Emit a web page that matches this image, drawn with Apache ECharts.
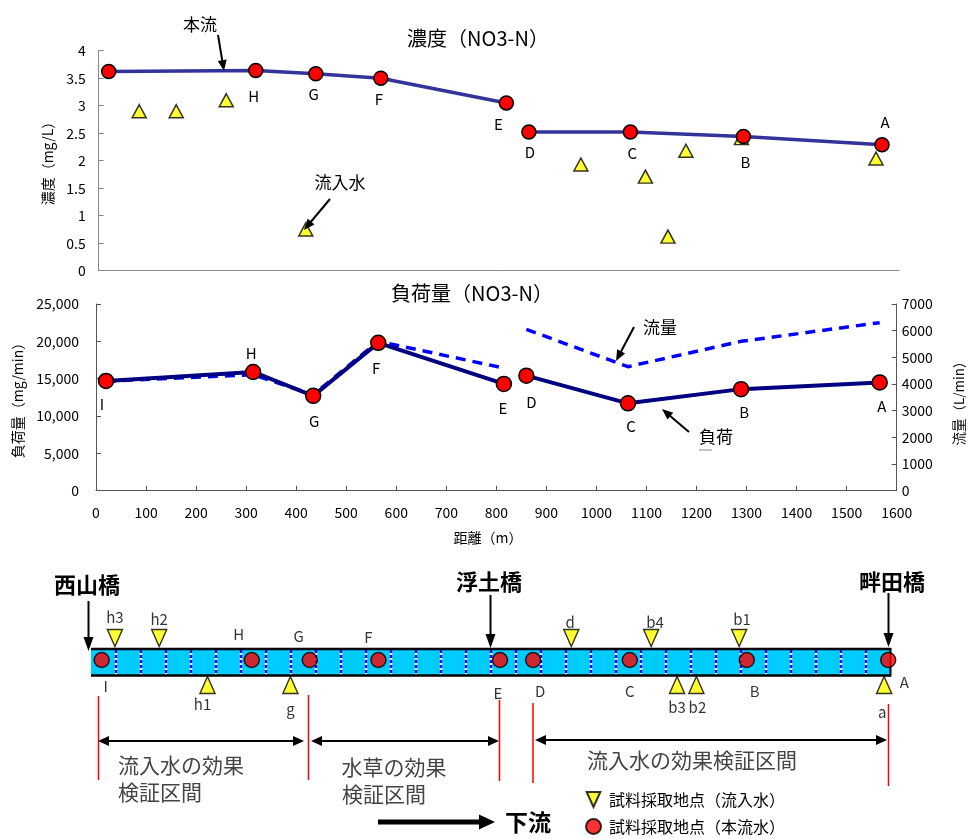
<!DOCTYPE html>
<html>
<head>
<meta charset="utf-8">
<script src="https://cdn.jsdelivr.net/npm/echarts@6/dist/echarts.min.js"></script>
<style>
html, body { margin: 0; padding: 0; background: #fff; }
#chart { width: 968px; height: 839px; }
</style>
</head>
<body>
<div id="chart"></div>
<script>
// main stream sampling sites (upstream -> downstream)
const siteNames = ['I', 'H', 'G', 'F', 'E', 'D', 'C', 'B', 'A'];
const siteDist = [20, 314, 434, 564, 815, 860, 1063, 1289, 1566];
const siteConc = [3.62, 3.64, 3.58, 3.50, 3.05, 2.52, 2.52, 2.44, 2.29];
const siteLoad = [14700, 15900, 12700, 19800, 14300, 15400, 11700, 13600, 14500];
const siteFlow = [4100, 4350, 3600, 5600, 4600, 6050, 4650, 5600, 6300];
// inflow sampling sites
const inflowNames = ['h3', 'h2', 'h1', 'g', 'd', 'b4', 'b3', 'b2', 'b1', 'a'];
const inflowDist = [81, 155, 255, 414, 964, 1093, 1138, 1174, 1285, 1554];
const inflowConc = [2.9, 2.9, 3.1, 0.75, 1.93, 1.71, 0.62, 2.18, 2.41, 2.04];
const inflowSide = ['top', 'top', 'bottom', 'bottom', 'top', 'top', 'bottom', 'bottom', 'top', 'bottom'];
// positions on the river sketch (m)
const siteMapPos = [20, 315, 429, 564, 803, 868, 1058, 1288, 1566];
const inflowMapPos = [46, 133, 228, 391, 943, 1100, 1151, 1189, 1273, 1558];
// line segments (gap between E and D)
const upstream = [0, 1, 2, 3, 4];
const downstream = [5, 6, 7, 8];

const FONT = '"Noto Sans CJK JP", "Noto Sans", sans-serif';

// label offsets (style only)
const concLabelOff = { H: [-2, 26], G: [-2, 20], F: [-2, 21], E: [-8, 21], D: [1, 20], C: [2, 21], B: [2, 26], A: [3, -22] };
const loadLabelOff = { I: [-4, 23], H: [-2, -19], G: [1, 25], F: [-2, 25], E: [-1, 24], D: [5, 27], C: [3, 23], B: [3, 23], A: [2, 24] };
const mapSiteOff = { I: [4, 26], H: [-13, -26], G: [-11, -24], F: [-10, -23], E: [-2, 33], D: [7, 31], C: [0, 31], B: [8, 31], A: [16, 22] };
const mapInflowOff = { h3: [0, -21], h2: [0, -19], h1: [-5, 19], g: [0, 24], d: [-1, -16], b4: [4, -16], b1: [3, -19], b3: [0, 22], b2: [1, 22], a: [-2, 27] };

function pts(idx, ys, offs) {
  return idx.map(function (i) {
    const n = siteNames[i];
    const item = { name: n, value: [siteDist[i], ys[i]] };
    if (offs[n]) item.label = { show: true, formatter: n, offset: offs[n] };
    return item;
  });
}

const labelBase = { show: false, position: 'inside', fontSize: 15, color: '#000', fontFamily: FONT };
const redDot = { color: '#ff0000', borderColor: '#000', borderWidth: 1.5 };
const yellowTri = { color: '#ffff00', borderColor: '#000', borderWidth: 1.5 };
const plain = function (v) { return String(v); };

// graphic helpers
function txt(x, y, text, size, o) {
  o = o || {};
  return {
    type: 'text', x: x, y: y, rotation: o.rot || 0, z: 50,
    style: {
      text: text, fontSize: size, fontFamily: FONT, fontWeight: o.bold ? 'bold' : 'normal',
      fill: o.color || '#000', textAlign: 'center', textVerticalAlign: 'middle',
      align: 'center', verticalAlign: 'middle'
    }
  };
}
function line(x1, y1, x2, y2, color, w, z, dash) {
  const st = { stroke: color, lineWidth: w };
  if (dash) st.lineDash = dash;
  return { type: 'line', z: z, shape: { x1: x1, y1: y1, x2: x2, y2: y2 }, style: st };
}
function head(x1, y1, x2, y2, hl, hw, color) {
  const L = Math.hypot(x2 - x1, y2 - y1), ux = (x2 - x1) / L, uy = (y2 - y1) / L;
  const bx = x2 - ux * hl, by = y2 - uy * hl;
  return {
    type: 'polygon', z: 60,
    shape: { points: [[x2, y2], [bx - uy * hw / 2, by + ux * hw / 2], [bx + uy * hw / 2, by - ux * hw / 2]] },
    style: { fill: color }
  };
}
function arrow(x1, y1, x2, y2, w, hl, hw) {
  const L = Math.hypot(x2 - x1, y2 - y1), ux = (x2 - x1) / L, uy = (y2 - y1) / L;
  return [line(x1, y1, x2 - ux * hl * 0.8, y2 - uy * hl * 0.8, '#000', w, 60), head(x1, y1, x2, y2, hl, hw, '#000')];
}
function dblArrow(x1, x2, y) {
  return [line(x1 + 8, y, x2 - 8, y, '#000', 2, 60), head(x2 - 20, y, x1, y, 11, 10, '#000'), head(x1 + 20, y, x2, y, 11, 10, '#000')];
}

let g = [];
// titles and axis names
g.push(txt(478, 38, '濃度（NO3-N）', 20));
g.push(txt(472, 293, '負荷量（NO3-N）', 20));
g.push(txt(48, 160, '濃度（mg/L）', 14, { rot: Math.PI / 2 }));
g.push(txt(18, 397, '負荷量（mg/min）', 14, { rot: Math.PI / 2 }));
g.push(txt(959, 400, '流量（L/min）', 13.5, { rot: Math.PI / 2 }));
g.push(txt(488, 538, '距離（m）', 14));
// annotations in charts
g.push(txt(200, 25, '本流', 17));
g = g.concat(arrow(218, 35, 224, 71, 2, 11, 9));
g.push(txt(340, 183, '流入水', 17));
g = g.concat(arrow(330, 199, 304, 230, 2, 11, 9));
g.push(txt(660, 328, '流量', 17));
g = g.concat(arrow(634, 327, 616, 361, 2, 11, 9));
g.push(txt(716, 437, '負荷', 17));
g = g.concat(arrow(689, 432, 662, 409, 2, 11, 9));
g.push(line(699, 450, 712, 450, '#888', 1, 50));

// river sketch
g.push({ type: 'rect', z: 0, shape: { x: 91, y: 649, width: 800, height: 26 }, style: { fill: '#00ccff' } });
for (let k = 0; k < 31; k++) {
  const x = 116 + 25 * k;
  g.push(line(x, 650, x, 675, '#ffffff', 2.5, 1));
  g.push(line(x, 650, x, 675, '#0000ff', 2.5, 1, [3, 2]));
}
g.push(line(91, 649, 891, 649, '#000', 2.5, 1));
g.push(line(91, 675.5, 891, 675.5, '#000', 2.5, 1));
g.push(line(890.5, 648, 890.5, 676.5, '#000', 2, 1));
// bridges
g.push(txt(87, 585, '西山橋', 22, { bold: true }));
g = g.concat(arrow(88.5, 601, 88.5, 651, 2, 14, 10));
g.push(txt(489, 582, '浮土橋', 22, { bold: true }));
g = g.concat(arrow(490.5, 595, 490.5, 648, 2, 14, 10));
g.push(txt(892, 582, '畔田橋', 22, { bold: true }));
g = g.concat(arrow(888.5, 593, 888.5, 647, 2, 14, 10));
// section markers
[[98.5, 696, 780], [308.5, 695, 780], [499.5, 700, 781], [533, 703, 783], [888.5, 704, 786]].forEach(function (r) {
  g.push(line(r[0], r[1], r[0], r[2], '#ff0000', 1.5, 40));
});
g = g.concat(dblArrow(98, 304, 741));
g = g.concat(dblArrow(311, 499, 741));
g = g.concat(dblArrow(535, 887, 740));
g.push(txt(181, 765, '流入水の効果', 21, { color: '#444' }));
g.push(txt(160, 792, '検証区間', 21, { color: '#444' }));
g.push(txt(394, 767, '水草の効果', 21, { color: '#444' }));
g.push(txt(384, 794, '検証区間', 21, { color: '#444' }));
g.push(txt(692, 760, '流入水の効果検証区間', 21, { color: '#444' }));
// downstream arrow
g = g.concat(arrow(378, 822, 495, 822, 5, 16, 15));
g.push(txt(528, 822, '下流', 23, { bold: true }));

const laneTop = 62, laneMid = 40, laneBot = 15;

const option = {
  animation: false,
  backgroundColor: '#fff',
  textStyle: { fontFamily: FONT },
  grid: [
    { left: 98.7, top: 50.7, width: 800.3, height: 220 },
    { left: 96, top: 304, width: 800.7, height: 186.7 },
    { left: 91.5, top: 600, width: 814, height: 100 }
  ],
  xAxis: [
    {
      gridIndex: 0, type: 'value', min: 0, max: 1600,
      axisLine: { lineStyle: { color: '#888', width: 1 } },
      axisTick: { show: false }, axisLabel: { show: false }, splitLine: { show: false }
    },
    {
      gridIndex: 1, type: 'value', min: 0, max: 1600, interval: 100,
      axisLine: { lineStyle: { color: '#555', width: 1 } },
      axisTick: { inside: true, length: 5, lineStyle: { color: '#555' } },
      axisLabel: { fontSize: 14, color: '#000', margin: 15, fontFamily: FONT, formatter: plain },
      splitLine: { show: false }
    },
    { gridIndex: 2, type: 'value', min: 0, max: 1600, show: false }
  ],
  yAxis: [
    {
      gridIndex: 0, type: 'value', min: 0, max: 4, interval: 0.5,
      axisLine: { show: true, lineStyle: { color: '#888', width: 1 } },
      axisTick: { show: true, inside: true, length: 5, lineStyle: { color: '#888' } },
      axisLabel: { fontSize: 14, color: '#000', margin: 13, fontFamily: FONT, formatter: plain },
      splitLine: { show: false }
    },
    {
      gridIndex: 1, type: 'value', min: 0, max: 25000, interval: 5000,
      axisLine: { show: true, lineStyle: { color: '#555', width: 1 } },
      axisTick: { show: true, inside: true, length: 5, lineStyle: { color: '#555' } },
      axisLabel: {
        fontSize: 14, color: '#000', margin: 17, fontFamily: FONT,
        formatter: function (v) { return v.toLocaleString('en-US'); }
      },
      splitLine: { show: false }
    },
    {
      gridIndex: 1, type: 'value', position: 'right', min: 0, max: 7000, interval: 1000,
      axisLine: { show: true, lineStyle: { color: '#555', width: 1 } },
      axisTick: { show: true, inside: true, length: 5, lineStyle: { color: '#555' } },
      axisLabel: { fontSize: 14, color: '#000', margin: 5, fontFamily: FONT, formatter: plain },
      splitLine: { show: false }
    },
    { gridIndex: 2, type: 'value', min: 0, max: 100, show: false }
  ],
  legend: {
    orient: 'vertical', left: 585, top: 791, height: 120, padding: 0,
    itemWidth: 15, itemHeight: 15, itemGap: 10,
    textStyle: { fontSize: 16, color: '#000', fontFamily: FONT, padding: [0, 0, 0, 3] },
    data: [
      { name: '試料採取地点（流入水）', icon: 'path://M0,0L10,0L5,11Z' },
      { name: '試料採取地点（本流水）', icon: 'circle' }
    ]
  },
  graphic: { elements: g },
  series: [
    {
      type: 'line', xAxisIndex: 0, yAxisIndex: 0, z: 3,
      data: pts(upstream, siteConc, concLabelOff),
      symbol: 'circle', symbolSize: 14, itemStyle: redDot,
      lineStyle: { color: '#333399', width: 3.5 }, label: labelBase
    },
    {
      type: 'line', xAxisIndex: 0, yAxisIndex: 0, z: 3,
      data: pts(downstream, siteConc, concLabelOff),
      symbol: 'circle', symbolSize: 14, itemStyle: redDot,
      lineStyle: { color: '#333399', width: 3.5 }, label: labelBase
    },
    {
      type: 'scatter', xAxisIndex: 0, yAxisIndex: 0, z: 2,
      data: inflowDist.map(function (d, i) { return { name: inflowNames[i], value: [d, inflowConc[i]] }; }),
      symbol: 'triangle', symbolSize: [14, 13], itemStyle: yellowTri
    },
    {
      type: 'line', xAxisIndex: 1, yAxisIndex: 2, z: 2,
      data: pts(upstream, siteFlow, {}), symbol: 'none',
      lineStyle: { color: '#0000ff', width: 3.5, type: [10, 7] }
    },
    {
      type: 'line', xAxisIndex: 1, yAxisIndex: 2, z: 2,
      data: pts(downstream, siteFlow, {}), symbol: 'none',
      lineStyle: { color: '#0000ff', width: 3.5, type: [10, 7] }
    },
    {
      type: 'line', xAxisIndex: 1, yAxisIndex: 1, z: 3,
      data: pts(upstream, siteLoad, loadLabelOff),
      symbol: 'circle', symbolSize: 15, itemStyle: redDot,
      lineStyle: { color: '#000080', width: 4 }, label: labelBase
    },
    {
      type: 'line', xAxisIndex: 1, yAxisIndex: 1, z: 3,
      data: pts(downstream, siteLoad, loadLabelOff),
      symbol: 'circle', symbolSize: 15, itemStyle: redDot,
      lineStyle: { color: '#000080', width: 4 }, label: labelBase
    },
    {
      name: '試料採取地点（流入水）', type: 'scatter', xAxisIndex: 2, yAxisIndex: 3, z: 5,
      symbol: 'triangle', symbolSize: [15, 17], itemStyle: yellowTri, label: labelBase,
      data: inflowMapPos.map(function (p, i) {
        const top = inflowSide[i] === 'top';
        return {
          name: inflowNames[i], value: [p, top ? laneTop : laneBot], symbolRotate: top ? 180 : 0,
          label: { show: true, formatter: inflowNames[i], offset: mapInflowOff[inflowNames[i]] }
        };
      })
    },
    {
      name: '試料採取地点（本流水）', type: 'scatter', xAxisIndex: 2, yAxisIndex: 3, z: 5,
      symbol: 'circle', symbolSize: 15, itemStyle: redDot, label: labelBase,
      data: siteMapPos.map(function (p, i) {
        return {
          name: siteNames[i], value: [p, laneMid],
          label: { show: true, formatter: siteNames[i], offset: mapSiteOff[siteNames[i]] }
        };
      })
    }
  ]
};

const chart = echarts.init(document.getElementById('chart'));
chart.setOption(option);
</script>
</body>
</html>
